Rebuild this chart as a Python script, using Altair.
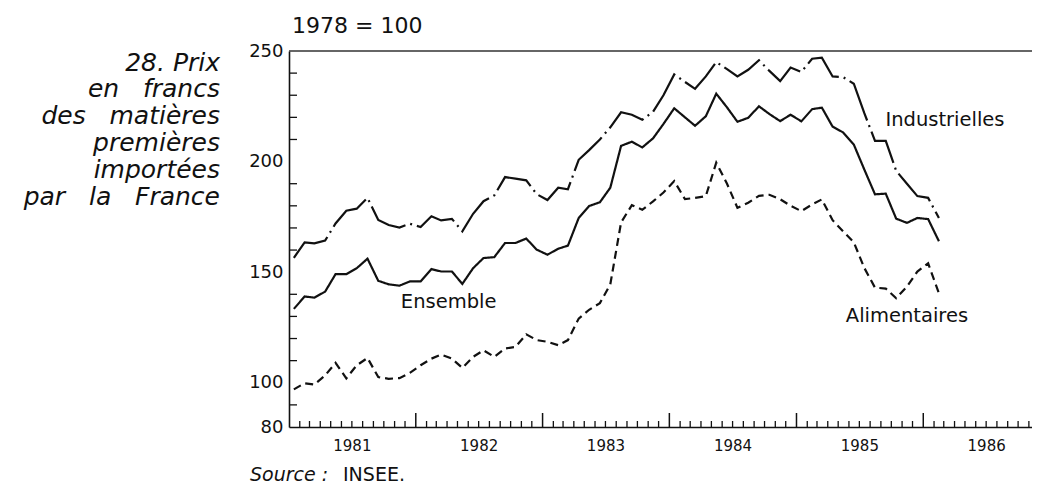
import altair as alt
import pandas as pd

# ---- data (monthly, Jan 1981 - Feb 1986), 1978 = 100 ----
series_names = ["Industrielles", "Ensemble", "Alimentaires"]

industrielles = [156.5, 163.5, 163.0, 164.3, 172.0, 177.8, 178.7, 183.6, 173.6, 171.3, 170.2, 171.9,
                 170.4, 175.3, 173.4, 174.1, 168.5, 176.4, 182.1, 184.7, 193.0, 192.3, 191.5, 185.3,
                 182.6, 188.2, 187.5, 200.8, 205.2, 210.0, 215.5, 222.3, 221.2, 218.9, 222.5, 230.0,
                 239.4, 236.0, 232.9, 238.5, 245.0, 241.8, 238.5, 241.5, 245.8, 241.0, 236.4, 242.5,
                 240.5, 246.5, 247.0, 238.5, 238.2, 235.2, 222.0, 209.4, 209.4, 195.8, 190.0, 184.4,
                 183.6, 174.5]

ensemble = [133.4, 139.0, 138.5, 141.2, 149.1, 149.1, 151.8, 156.1, 146.1, 144.5, 143.9, 145.8,
            145.8, 151.4, 150.3, 150.3, 144.7, 151.8, 156.4, 156.8, 163.2, 163.2, 165.2, 160.2,
            157.9, 160.6, 162.0, 174.5, 179.9, 181.6, 188.2, 207.1, 209.0, 206.4, 210.5, 217.0,
            224.1, 220.0, 216.2, 220.5, 230.7, 224.5, 218.0, 219.8, 225.0, 221.5, 218.3, 221.2,
            218.2, 223.7, 224.4, 215.8, 213.2, 207.7, 196.5, 185.2, 185.5, 174.2, 172.3, 174.5,
            174.0, 164.0]

alimentaires = [97.0, 99.8, 99.2, 103.3, 109.0, 102.0, 107.9, 111.2, 102.6, 101.8, 102.1, 104.5,
                107.9, 110.9, 112.7, 110.9, 106.7, 111.7, 114.7, 111.7, 115.5, 116.2, 121.9, 119.3,
                118.5, 117.0, 119.3, 129.0, 133.0, 136.0, 144.5, 172.5, 180.3, 178.2, 182.0, 186.0,
                191.2, 183.0, 183.6, 184.4, 199.5, 190.0, 179.1, 181.4, 184.5, 185.0, 183.0, 180.0,
                177.6, 180.6, 182.9, 173.5, 168.5, 163.5, 152.0, 143.0, 142.6, 138.2, 143.5, 150.3,
                154.0, 140.5]

year_labels = [1981, 1982, 1983, 1984, 1985, 1986]
y_label_values = [80, 100, 150, 200, 250]
y_minor_ticks = [90, 110, 120, 130, 140, 160, 170, 180, 190, 210, 220, 230, 240]

label_text = ["Industrielles", "Ensemble", "Alimentaires"]
label_date = ["1985-09-14", "1981-11-19", "1985-05-23"]
label_value = [218.8, 136.5, 130.2]

NB = "\u00a0"
GAP = NB * 3
title_text = "\n".join([
    "28. Prix",
    "en" + GAP + "francs",
    "des" + GAP + "matières",
    "premières",
    "importées",
    "par" + GAP + "la" + GAP + "France",
])

# ---- tables ----
dates = pd.date_range("1981-01-01", periods=len(ensemble), freq="MS") + pd.Timedelta(days=14)
rows = []
for name, vals in zip(series_names, [industrielles, ensemble, alimentaires]):
    for d, v in zip(dates, vals):
        rows.append({"date": d.strftime("%Y-%m-%d"), "value": v, "series": name})
df = pd.DataFrame(rows)

months = pd.date_range("1981-01-01", "1986-11-01", freq="MS")
minor_df = pd.DataFrame({"date": [m.strftime("%Y-%m-%d") for m in months if m.month != 1]})
major_df = pd.DataFrame({"date": [m.strftime("%Y-%m-%d") for m in months if m.month == 1 and m.year > 1981]})
ytick_df = pd.DataFrame({"value": y_minor_ticks})
lab_df = pd.DataFrame({"label": label_text, "date": label_date, "value": label_value})

W, H = 743, 376
INK = "#111111"
FONT = "DejaVu Sans"

xscale = alt.Scale(domain=[alt.DateTime(year=1981, month=1, date=1),
                           alt.DateTime(year=1986, month=11, date=10)])
yscale = alt.Scale(domain=[80, 250], zero=False, nice=False)

xaxis = alt.Axis(values=[alt.DateTime(year=y, month=7, date=1) for y in year_labels],
                 format="%Y", ticks=False, domain=True, domainColor=INK, domainWidth=1.6,
                 labelFont=FONT, labelFontSize=15, labelPadding=11, labelColor=INK,
                 title=None, grid=False, labelFlush=False, labelOverlap=False)
yaxis = alt.Axis(values=y_label_values, ticks=False, domain=True, domainColor=INK, domainWidth=1.6,
                 labelFont=FONT, labelFontSize=18, labelPadding=6, labelColor=INK,
                 title=None, grid=False, labelFlush=False, labelOverlap=False)


def X(field="date:T"):
    return alt.X(field, scale=xscale, axis=xaxis)


def Y(field="value:Q"):
    return alt.Y(field, scale=yscale, axis=yaxis)


lines = alt.Chart(df).mark_line(strokeWidth=2.2, color=INK).encode(
    x=X(), y=Y(),
    strokeDash=alt.StrokeDash("series:N", legend=None,
                              scale=alt.Scale(domain=series_names,
                                              range=[[44, 5, 2, 5], [1, 0], [8, 5]])),
    detail="series:N",
)

minor_ticks = alt.Chart(minor_df).mark_rule(color=INK, strokeWidth=1.3).encode(
    x=X(), y=alt.value(H), y2=alt.value(H - 6),
)
major_ticks = alt.Chart(major_df).mark_rule(color=INK, strokeWidth=1.5).encode(
    x=X(), y=alt.value(H), y2=alt.value(H - 14),
)
y_ticks = alt.Chart(ytick_df).mark_rule(color=INK, strokeWidth=1.3).encode(
    y=Y(), x=alt.value(0), x2=alt.value(8),
)
top_rule = alt.Chart(pd.DataFrame({"a": [0]})).mark_rule(color="#333333", strokeWidth=1.4).encode(
    y=alt.value(0)
)

series_labels = alt.Chart(lab_df).mark_text(align="left", baseline="middle", font=FONT,
                                            fontSize=19.5, color=INK).encode(
    x=X(), y=Y(), text="label:N",
)

one = pd.DataFrame({"t": [title_text]})
title = alt.Chart(one).mark_text(align="right", baseline="alphabetic", font=FONT, fontSize=25,
                                 fontStyle="italic", lineBreak="\n", lineHeight=26.8,
                                 color=INK).encode(
    x=alt.value(-69), y=alt.value(19.5), text="t:N"
)

unit = alt.Chart(pd.DataFrame({"t": ["1978 = 100"]})).mark_text(
    align="left", baseline="middle", font=FONT, fontSize=22, color=INK).encode(
    x=alt.value(3), y=alt.value(-25), text="t:N")

source1 = alt.Chart(pd.DataFrame({"t": ["Source :"]})).mark_text(
    align="left", baseline="alphabetic", font=FONT, fontSize=19, fontStyle="italic",
    color=INK).encode(x=alt.value(-39), y=alt.value(430), text="t:N")
source2 = alt.Chart(pd.DataFrame({"t": ["INSEE."]})).mark_text(
    align="left", baseline="alphabetic", font=FONT, fontSize=19, color=INK).encode(
    x=alt.value(54), y=alt.value(430), text="t:N")

chart = alt.layer(
    lines, minor_ticks, major_ticks, y_ticks, top_rule, series_labels,
    title, unit, source1, source2,
).properties(
    width=W, height=H,
    autosize=alt.AutoSizeParams(type="none"),
    padding={"left": 281, "top": 43, "right": 0, "bottom": 61},
    background="white",
).configure_view(stroke=None)

chart.save("out.html", embed_options={"renderer": "svg", "actions": False})
